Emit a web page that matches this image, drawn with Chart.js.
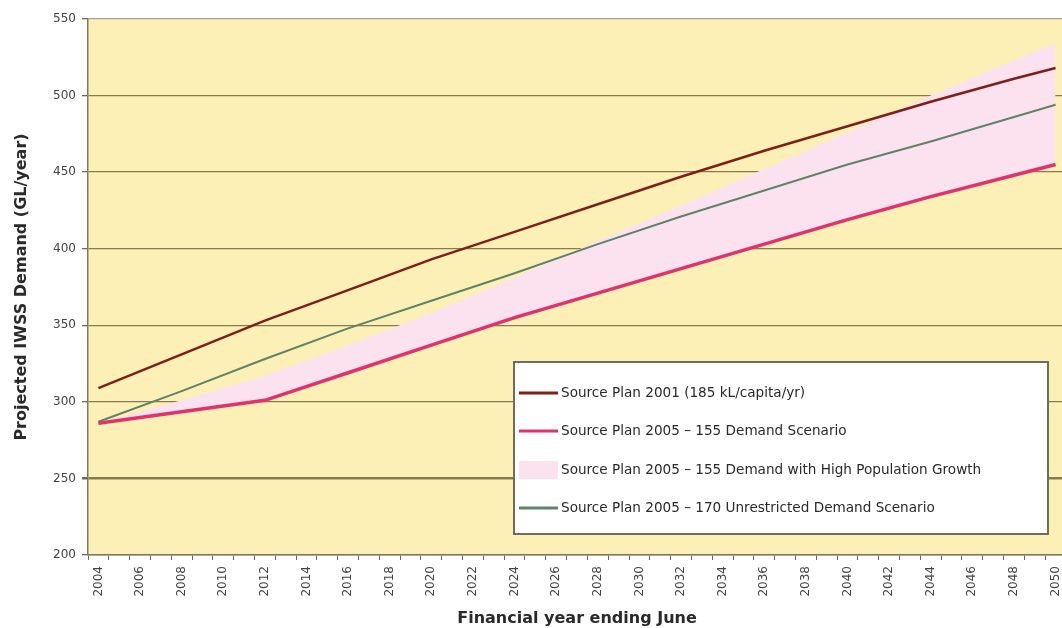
<!DOCTYPE html>
<html><head><meta charset="utf-8">
<script src="https://cdn.jsdelivr.net/npm/chart.js@4.4.1/dist/chart.umd.min.js"></script>
<style>
html,body{margin:0;padding:0;background:#fff;overflow:hidden;}
#wrap{position:relative;width:1080px;height:628px;}
</style></head><body>
<div id="wrap"><canvas id="c"></canvas></div>
<script>
// Tick labels (financial years)
const years = ['2004','2005','2006','2007','2008','2009','2010','2011','2012','2013','2014','2015','2016','2017','2018','2019','2020','2021','2022','2023','2024','2025','2026','2027','2028','2029','2030','2031','2032','2033','2034','2035','2036','2037','2038','2039','2040','2041','2042','2043','2044','2045','2046','2047','2048','2049','2050'];
const readYears = ['2004','2008','2012','2016','2020','2024','2028','2032','2036','2040','2044','2048','2050'];
// Series values (GL/year)
const plan2001 = [309, 331, 353, 373, 393, 411, 429, 447, 464, 480, 496, 511, 518];
const plan2005_155 = [286, 293.5, 301, 319, 337, 355, 371, 387, 403, 419, 434, 448, 455];
const plan2005_high = [286, 301, 317, 337, 358, 381, 405, 428, 452, 476, 500, 523, 534];
const plan2005_170 = [287, 307, 328, 348, 366, 384, 403, 421, 438, 455, 470, 486, 494];
const yTicks = [200, 250, 300, 350, 400, 450, 500, 550];

const labels = [
  'Source Plan 2001 (185 kL/capita/yr)',
  'Source Plan 2005 \u2013 155 Demand Scenario',
  'Source Plan 2005 \u2013 155 Demand with High Population Growth',
  'Source Plan 2005 \u2013 170 Unrestricted Demand Scenario'
];

const pts = arr => arr.map((v, i) => ({x: readYears[i], y: v}));

const bgPlugin = {
  id: 'plotBg',
  beforeDraw(chart) {
    const {ctx, chartArea: a} = chart;
    ctx.save();
    ctx.fillStyle = '#FDF0B6';
    ctx.fillRect(a.left, a.top, a.right - a.left, a.bottom - a.top);
    ctx.restore();
  }
};

const legendPlugin = {
  id: 'boxLegend',
  afterDraw(chart) {
    const ctx = chart.ctx;
    ctx.save();
    const bx = 514, by = 362, bw = 534, bh = 172;
    ctx.fillStyle = '#ffffff';
    ctx.fillRect(bx, by, bw, bh);
    ctx.strokeStyle = '#6e6c5c';
    ctx.lineWidth = 2;
    ctx.strokeRect(bx, by, bw, bh);
    const rows = [393, 431, 470, 508];
    chart.data.datasets.forEach((ds, i) => {
      const y = rows[i];
      if (ds.borderWidth === 0) {
        ctx.fillStyle = ds.backgroundColor;
        ctx.fillRect(519, y - 9, 39, 18);
      } else {
        ctx.strokeStyle = ds.borderColor;
        ctx.lineWidth = 3;
        ctx.beginPath();
        ctx.moveTo(519, y);
        ctx.lineTo(558, y);
        ctx.stroke();
      }
      ctx.fillStyle = '#2a2a2a';
      ctx.font = '13.6px "DejaVu Sans"';
      ctx.textBaseline = 'middle';
      ctx.textAlign = 'left';
      ctx.fillText(ds.label, 561, y);
    });
    ctx.restore();
  }
};

new Chart(document.getElementById('c'), {
  type: 'line',
  data: {
    labels: years,
    datasets: [
      {label: labels[0], data: pts(plan2001), borderColor: '#7E1F1A', borderWidth: 2.5, pointRadius: 0, fill: false, tension: 0},
      {label: labels[1], data: pts(plan2005_155), borderColor: '#E0336E', borderWidth: 3.5, pointRadius: 0, fill: false, tension: 0},
      {label: labels[2], data: pts(plan2005_high), borderColor: 'rgba(0,0,0,0)', borderWidth: 0, backgroundColor: '#FBE2EE', pointRadius: 0, fill: 1, tension: 0},
      {label: labels[3], data: pts(plan2005_170), borderColor: '#5E8468', borderWidth: 2, pointRadius: 0, fill: false, tension: 0}
    ]
  },
  options: {
    responsive: true,
    maintainAspectRatio: false,
    animation: false,
    layout: {padding: {top: 19, right: 14, left: 0, bottom: 0}},
    plugins: {
      legend: {display: false},
      tooltip: {enabled: false},
      filler: {drawTime: 'beforeDatasetsDraw'}
    },
    scales: {
      x: {
        type: 'category',
        offset: true,
        grid: {display: true, drawOnChartArea: false, offset: true, tickLength: 5, color: '#6f6a50', lineWidth: 1},
        border: {color: '#7d7a64', width: 1.5},
        ticks: {
          autoSkip: false, minRotation: 90, maxRotation: 90, padding: 6,
          color: '#444', font: {family: 'DejaVu Sans', size: 12},
          callback: function(v, i) { return i % 2 === 0 ? this.getLabelForValue(v) : ''; }
        },
        title: {display: true, text: 'Financial year ending June', color: '#2a2a2a',
          font: {family: 'DejaVu Sans', size: 16, weight: 'bold'}, padding: {top: 0, bottom: 0}},
        afterFit(s) { s.height = 73; }
      },
      y: {
        min: 200, max: 550,
        afterBuildTicks(s) { s.ticks = yTicks.map(v => ({value: v})); },
        grid: {
          color: c => (c.tick && c.tick.value === 550) ? '#a6a396' : '#857D50',
          lineWidth: c => (c.tick && c.tick.value === 250) ? 2.5 : 1.3,
          tickColor: '#6f6a50', tickLength: 6
        },
        border: {color: '#7d7a64', width: 1.5},
        ticks: {padding: 6, color: '#444', font: {family: 'DejaVu Sans', size: 12}},
        title: {display: true, text: 'Projected IWSS Demand (GL/year)', color: '#2a2a2a',
          font: {family: 'DejaVu Sans', size: 16, weight: 'bold'}, padding: {top: 12, bottom: 0}},
        afterFit(s) { s.width = 88; }
      }
    }
  },
  plugins: [bgPlugin, legendPlugin]
});
</script>
</body></html>
